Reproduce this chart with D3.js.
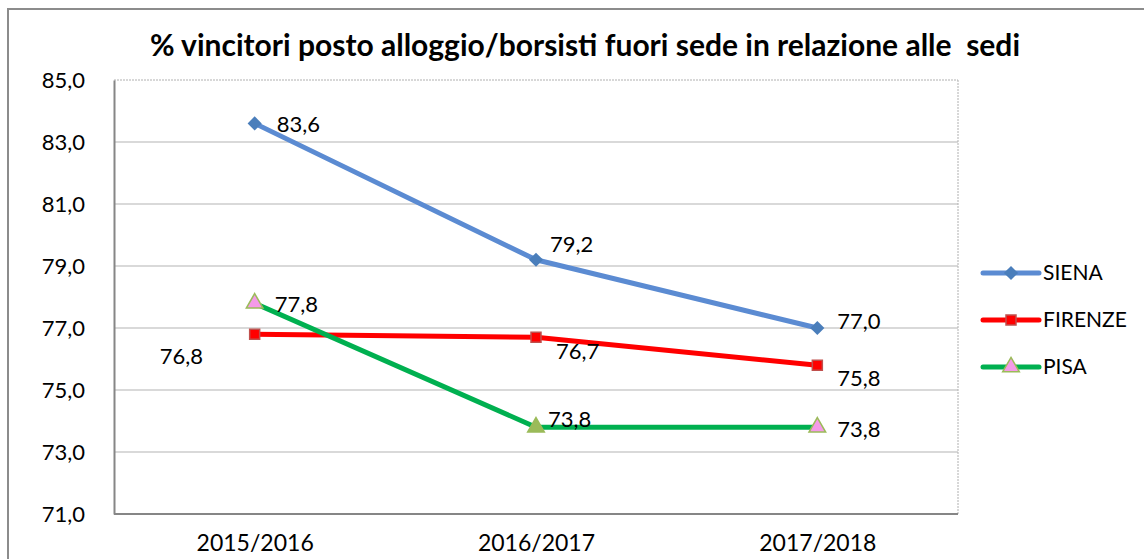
<!DOCTYPE html>
<html>
<head>
<meta charset="utf-8">
<script src="https://cdn.jsdelivr.net/npm/d3@7"></script>
<style>
  body { margin: 0; background: #fff; }
  svg { display: block; font-family: Lato, "Open Sans", sans-serif; }
</style>
</head>
<body>
<svg id="chart" width="1144" height="559"></svg>
<script>
// dati
var anni = ["2015/2016", "2016/2017", "2017/2018"];
var siena = [83.6, 79.2, 77.0];
var firenze = [76.8, 76.7, 75.8];
var pisa = [77.8, 73.8, 73.8];
var tickY = [71, 73, 75, 77, 79, 81, 83, 85];

var svg = d3.select("#chart");
var margin = {top: 80, left: 114, right: 186, bottom: 45};
var width = 1144 - margin.left - margin.right,
    height = 559 - margin.top - margin.bottom;

var fmt = function(v) { return v.toFixed(1).replace(".", ","); };

// bordo esterno (esce dalla finestra a destra e in basso)
svg.append("rect")
  .attr("x", 8).attr("y", 9).attr("width", 1160).attr("height", 580)
  .attr("fill", "none").attr("stroke", "#8c8c8c").attr("stroke-width", 2);

svg.append("text")
  .attr("x", 585).attr("y", 56)
  .attr("text-anchor", "middle")
  .attr("font-weight", "bold")
  .attr("font-size", 30)
  .attr("xml:space", "preserve")
  .text("% vincitori posto alloggio/borsisti fuori sede in relazione alle  sedi");

var g = svg.append("g").attr("transform", "translate(" + margin.left + "," + margin.top + ")");

var x = d3.scalePoint().domain(anni).range([0, width]).padding(0.5);
var y = d3.scaleLinear().domain([71, 85]).range([height, 0]);

// griglia
g.append("g")
  .selectAll("line")
  .data(tickY.slice(1))
  .enter().append("line")
    .attr("x1", 0).attr("x2", width)
    .attr("y1", function(d) { return y(d); })
    .attr("y2", function(d) { return y(d); })
    .attr("stroke", function(d) { return d == 85 ? "#b0b0b0" : "#d9d9d9"; })
    .attr("stroke-dasharray", function(d) { return d == 85 ? "2,1" : null; })
    .attr("stroke-width", function(d) { return d == 85 ? 1 : 2; });

g.append("line")
  .attr("x1", width).attr("x2", width).attr("y1", 0).attr("y2", height)
  .attr("stroke", "#b0b0b0").attr("stroke-dasharray", "2,1");

var yAxis = g.append("g")
  .call(d3.axisLeft(y).tickValues(tickY).tickSize(0).tickPadding(29).tickFormat(fmt));
yAxis.select(".domain").attr("stroke", "#868686").attr("stroke-width", 2);
yAxis.selectAll("text").attr("font-size", 22).attr("fill", "#000").attr("font-family", "Lato, sans-serif");

var xAxis = g.append("g")
  .attr("transform", "translate(0," + height + ")")
  .call(d3.axisBottom(x).tickSize(0).tickPadding(21));
xAxis.select(".domain").attr("stroke", "#868686").attr("stroke-width", 2).attr("d", "M0,0H" + width);
xAxis.selectAll("text").attr("font-size", 23).attr("fill", "#000").attr("font-family", "Lato, sans-serif");

var serie = [
  {nome: "SIENA", valori: siena, linea: "#5b8bd2", marker: "diamond", fill: ["#4a7ebb", "#4a7ebb", "#4a7ebb"], bordo: "#4a7ebb",
   off: [[22, 1], [14, -16], [20, -7]]},
  {nome: "FIRENZE", valori: firenze, linea: "#ff0000", marker: "square", fill: ["#ff0000", "#ff0000", "#ff0000"], bordo: "#c0504d",
   off: [[-95, 22], [20, 14], [20, 13]]},
  {nome: "PISA", valori: pisa, linea: "#00b050", marker: "triangle", fill: ["#f49ae8", "#9bbb59", "#f49ae8"], bordo: "#9bbb59",
   off: [[20, 1], [12, -8], [20, 2]]}
];

var simbolo = {
  diamond: d3.symbol().type(d3.symbolSquare).size(100),
  square: d3.symbol().type(d3.symbolSquare).size(100),
  triangle: d3.symbol().type(d3.symbolTriangle).size(120)
};
var ruota = function(m) { return m == "diamond" ? " rotate(45)" : ""; };

var line = d3.line()
  .x(function(d, i) { return x(anni[i]); })
  .y(function(d) { return y(d); });

serie.forEach(function(s) {
  g.append("path")
    .attr("d", line(s.valori))
    .attr("fill", "none")
    .attr("stroke", s.linea)
    .attr("stroke-width", 5)
    .attr("stroke-linejoin", "round");
});

serie.forEach(function(s) {
  g.selectAll(null)
    .data(s.valori)
    .enter().append("path")
      .attr("d", simbolo[s.marker])
      .attr("transform", function(d, i) { return "translate(" + x(anni[i]) + "," + y(d) + ")" + ruota(s.marker); })
      .attr("fill", function(d, i) { return s.fill[i]; })
      .attr("stroke", s.bordo)
      .attr("stroke-width", s.marker == "diamond" ? 0 : 1.5);

  g.selectAll(null)
    .data(s.valori)
    .enter().append("text")
      .attr("x", function(d, i) { return x(anni[i]) + s.off[i][0]; })
      .attr("y", function(d, i) { return y(d) + s.off[i][1]; })
      .attr("dy", "0.35em")
      .attr("font-size", 22)
      .text(function(d) { return fmt(d); });
});

// legenda
var legenda = svg.append("g")
  .selectAll("g")
  .data(serie)
  .enter().append("g")
    .attr("transform", function(d, i) { return "translate(983," + (273 + i * 47) + ")"; });

legenda.append("line")
  .attr("x1", 0).attr("x2", 56)
  .attr("stroke", function(d) { return d.linea; })
  .attr("stroke-width", 5)
  .attr("stroke-linecap", "round");

legenda.append("path")
  .attr("d", function(d) { return simbolo[d.marker](); })
  .attr("transform", function(d) { return "translate(28,0)" + ruota(d.marker); })
  .attr("fill", function(d) { return d.fill[0]; })
  .attr("stroke", function(d) { return d.bordo; })
  .attr("stroke-width", function(d) { return d.marker == "diamond" ? 0 : 1.5; });

legenda.append("text")
  .attr("x", 60).attr("dy", "0.35em")
  .attr("font-size", 21)
  .text(function(d) { return d.nome; });
</script>
</body>
</html>
